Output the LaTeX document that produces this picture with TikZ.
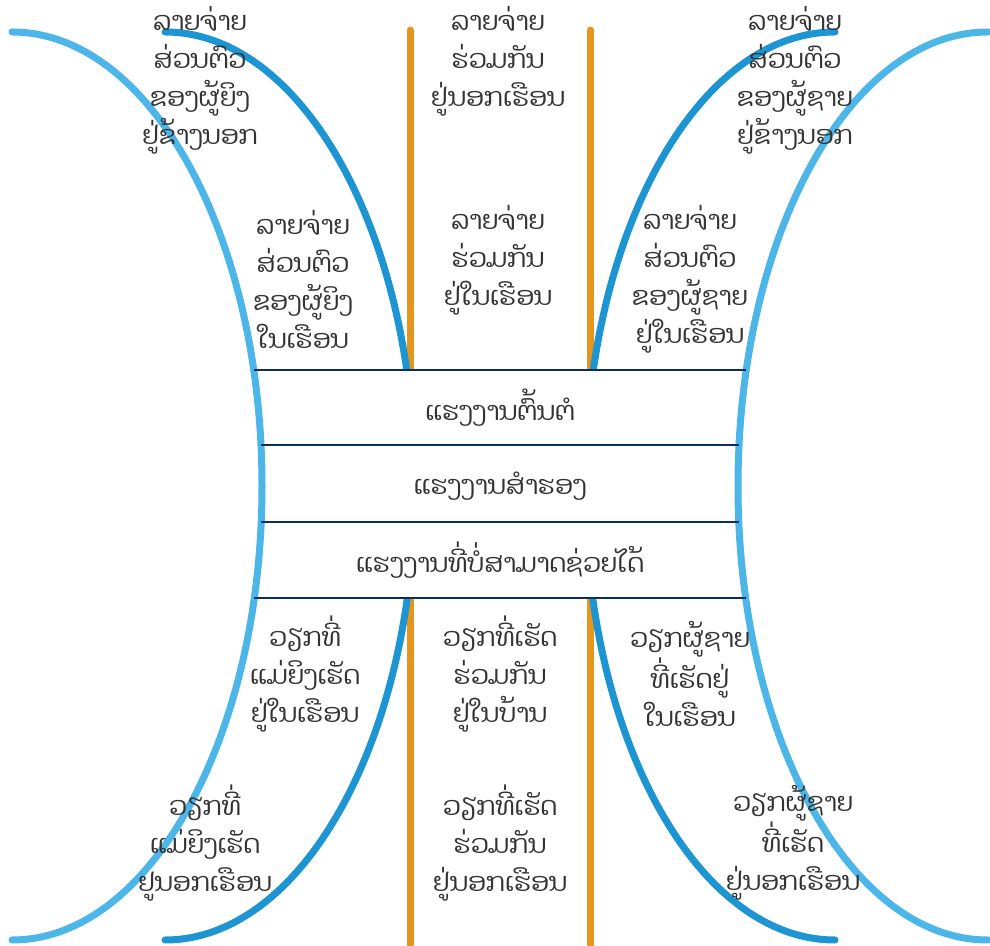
\documentclass[tikz,border=0pt]{standalone}
\usepackage{fontspec}
\newfontfamily\laofont[Script=Lao]{Dhyana}
\definecolor{skyblue}{HTML}{4DB6E8}
\definecolor{deepblue}{HTML}{1C95D2}
\definecolor{ochre}{HTML}{E5961F}
\definecolor{navy}{HTML}{0B2D5C}
\definecolor{txtgray}{HTML}{333333}

\begin{document}
\begin{tikzpicture}[x=1pt,y=1pt,
    lbl/.style={align=center,text=txtgray,font=\laofont\fontsize{26}{38}\selectfont},
    outerarc/.style={line width=7pt,draw=skyblue,line cap=round},
    innerarc/.style={line width=7pt,draw=deepblue,line cap=round},
    pillar/.style={line width=7pt,draw=ochre,line cap=round},
    bandline/.style={line width=2pt,draw=navy}]

\useasboundingbox (0,0) rectangle (990,945);

% Pillars
\draw[pillar] (410,915) -- (410,0);
\draw[pillar] (590,915) -- (590,0);

% Arcs (half ellipses)
\draw[outerarc] (12,913) arc[start angle=90,end angle=-90,x radius=250,y radius=454];
\draw[innerarc] (165,913) arc[start angle=90,end angle=-90,x radius=250,y radius=454];
\draw[outerarc] (988,913) arc[start angle=90,end angle=270,x radius=250,y radius=454];
\draw[innerarc] (835,913) arc[start angle=90,end angle=270,x radius=250,y radius=454];

% Bands
\fill[white] (266,347) rectangle (734,575);
\draw[bandline] (254,575) -- (746,575);
\draw[bandline] (261,500) -- (739,500);
\draw[bandline] (261,423) -- (739,423);
\draw[bandline] (254,347) -- (746,347);

\node[lbl] (core) at (500,537) {ແຮງງານຕົ້ນຕໍ};
\node[lbl] (reserve) at (500,459) {ແຮງງານສຳຮອງ};
\node[lbl] (unable) at (500,385) {ແຮງງານທີ່ບໍ່ສາມາດຊ່ວຍໄດ້};

% Upper labels
\node[lbl] (tl) at (200,865) {ລາຍຈ່າຍ\\ສ່ວນຕົວ\\ຂອງຜູ້ຍິງ\\ຢູ່ຂ້າງນອກ};
\node[lbl] (tc) at (498,884) {ລາຍຈ່າຍ\\ຮ່ວມກັນ\\ຢູ່ນອກເຮືອນ};
\node[lbl] (tr) at (795,865) {ລາຍຈ່າຍ\\ສ່ວນຕົວ\\ຂອງຜູ້ຊາຍ\\ຢູ່ຂ້າງນອກ};
\node[lbl] (ml) at (303,666) {ລາຍຈ່າຍ\\ສ່ວນຕົວ\\ຂອງຜູ້ຍິງ\\ໃນເຮືອນ};
\node[lbl] (mc) at (498,685) {ລາຍຈ່າຍ\\ຮ່ວມກັນ\\ຢູ່ໃນເຮືອນ};
\node[lbl] (mr) at (690,666) {ລາຍຈ່າຍ\\ສ່ວນຕົວ\\ຂອງຜູ້ຊາຍ\\ຢູ່ໃນເຮືອນ};

% Lower labels
\node[lbl] (bl) at (305,271) {ວຽກທີ່\\ແມ່ຍິງເຮັດ\\ຢູ່ໃນເຮືອນ};
\node[lbl] (bc) at (500,271) {ວຽກທີ່ເຮັດ\\ຮ່ວມກັນ\\ຢູ່ໃນບ້ານ};
\node[lbl] (br) at (690,271) {ວຽກຜູ້ຊາຍ\\ທີ່ເຮັດຢູ່\\ໃນເຮືອນ};
\node[lbl] (bbl) at (205,102) {ວຽກທີ່\\ແມ່ຍິງເຮັດ\\ຢູນອກເຮືອນ};
\node[lbl] (bbc) at (500,102) {ວຽກທີ່ເຮັດ\\ຮ່ວມກັນ\\ຢູ່ນອກເຮືອນ};
\node[lbl] (bbr) at (793,102) {ວຽກຜູ້ຊາຍ\\ທີ່ເຮັດ\\ຢູ່ນອກເຮືອນ};

\end{tikzpicture}
\end{document}
